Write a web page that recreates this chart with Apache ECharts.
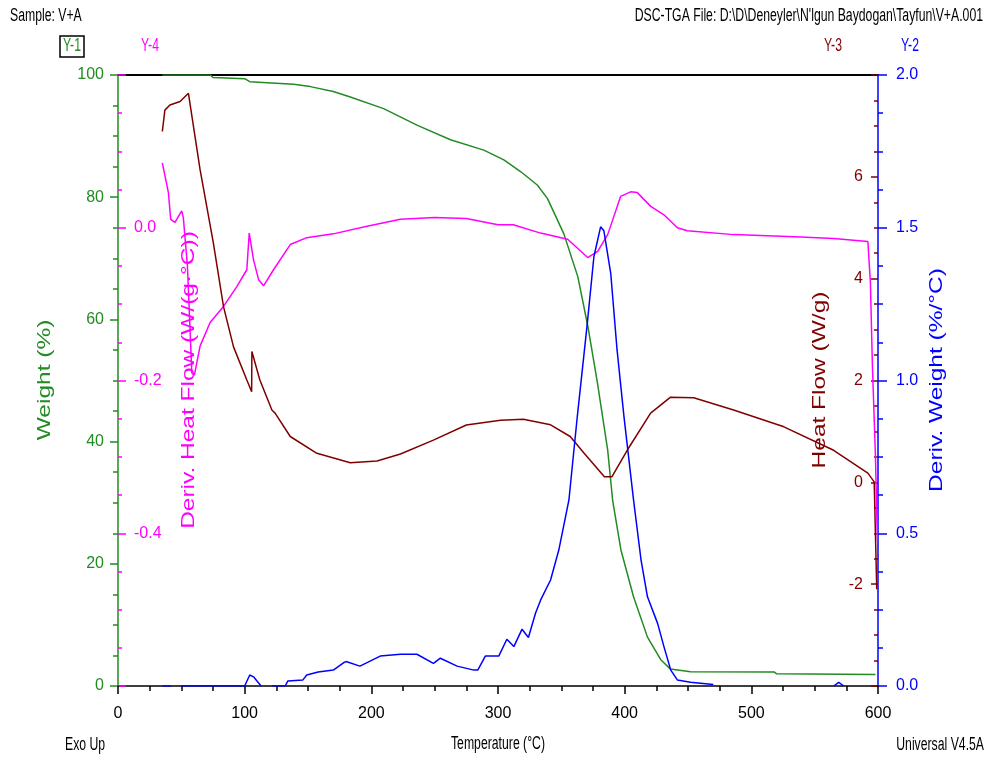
<!DOCTYPE html>
<html>
<head>
<meta charset="utf-8">
<title>DSC-TGA V+A</title>
<script src="https://cdn.jsdelivr.net/npm/echarts@6/dist/echarts.min.js"></script>
<style>
html, body { margin: 0; padding: 0; background: #fff; }
#chart { width: 989px; height: 758px; }
</style>
</head>
<body>
<div id="chart"></div>
<script>
// [temperature °C, value]
var weight = [[35,100],[73,100],[75,99.6],[100,99.4],[104,98.9],[138.6,98.5],[151.8,98.1],[170,97.3],[183.4,96.4],[209.7,94.5],[236,91.8],[262.5,89.4],[288.8,87.7],[304.6,86.1],[317.8,84.2],[331,82.0],[339,79.8],[352,74],[363,67],[371,58.8],[378.5,49.6],[386.6,38.6],[390.5,30.4],[397,22.3],[407,14.6],[418,8],[428.5,4.3],[436,2.8],[452,2.35],[518,2.3],[520,2.0],[598,1.9]];

var heatFlow = [[35,6.89],[37,7.31],[41,7.41],[49,7.48],[55.6,7.64],[64.8,6.14],[75.3,4.70],[83.3,3.45],[91.2,2.66],[101.7,2.01],[105.5,1.78],[105.7,2.57],[112,2.01],[121.5,1.42],[124,1.36],[136,0.90],[157,0.57],[183.4,0.385],[204.5,0.42],[223,0.556],[249,0.83],[275,1.126],[302,1.22],[320,1.24],[341.5,1.13],[357,0.9],[368,0.57],[384,0.11],[390,0.11],[402,0.63],[420.5,1.36],[436,1.67],[454.5,1.66],[486,1.42],[525.7,1.09],[565,0.63],[592,0.18],[597,0.01],[599,-2.1]];

var derivHeatFlow = [[35,0.085],[39.8,0.046],[41.6,0.011],[45,0.007],[50.3,0.022],[51.6,0.013],[54.8,-0.05],[58.3,-0.19],[60.3,-0.193],[64.8,-0.155],[72.7,-0.124],[83.3,-0.103],[93.8,-0.077],[101.7,-0.055],[103.6,-0.007],[107,-0.042],[111,-0.068],[114.9,-0.076],[122.8,-0.055],[136,-0.022],[149,-0.013],[170,-0.008],[196.6,0.002],[223,0.011],[250,0.0135],[275,0.012],[300,0.004],[312,0.004],[333.6,-0.007],[355,-0.015],[370.8,-0.039],[378.7,-0.031],[386.6,-0.009],[396.8,0.041],[404.7,0.047],[410,0.046],[420.6,0.028],[431,0.017],[441.6,0],[449.5,-0.004],[486,-0.009],[539,-0.012],[565,-0.014],[592,-0.018],[594,-0.072],[595.6,-0.181],[598,-0.3],[599.5,-0.41]];

var derivWeight = [[35,0],[42,0],[43,null],[50,0],[100,0],[104,0.036],[107,0.03],[111,0.01],[113,0],[114,null],[121.5,0],[132,0],[134,0.016],[146,0.02],[149,0.036],[158,0.046],[170,0.052],[178,0.076],[180,0.08],[191,0.065],[207,0.098],[223,0.104],[236,0.104],[249,0.074],[254.5,0.091],[267.7,0.065],[281,0.052],[284,0.052],[290,0.098],[300.6,0.098],[307,0.153],[312.5,0.129],[319,0.186],[324,0.159],[329.6,0.238],[333.6,0.281],[341.5,0.347],[348,0.445],[356,0.609],[362.6,0.882],[370.5,1.187],[375.7,1.405],[381,1.503],[383.6,1.49],[389,1.351],[394,1.10],[399.5,0.88],[407,0.609],[413,0.41],[418,0.292],[426,0.205],[431,0.129],[436.4,0.052],[441.6,0.02],[452,0.012],[470,0.005],[471,null],[565,0],[569,0.012],[573,0]];

var GREEN = '#228B22', MAG = '#FF00FF', RED = '#800000', BLUE = '#0000FF';
var FONT = "'Liberation Sans', Arial, sans-serif";

var chart = echarts.init(document.getElementById('chart'));

// the Universal Analysis printout uses a tall condensed face, so texts are squeezed with scaleX
function txt(x, y, s, color, opts) {
  opts = opts || {};
  return {
    type: 'text', x: x, y: y, rotation: opts.rot || 0, scaleX: opts.sx || 0.68, scaleY: 1, z: 10,
    style: {
      text: s, fill: color,
      font: (opts.size || 18) + 'px ' + FONT,
      align: opts.align || 'left', textAlign: opts.align || 'left',
      verticalAlign: 'middle', textVerticalAlign: 'middle'
    }
  };
}
function axName(x, s, color) {
  return txt(x, 380, s, color, { rot: Math.PI / 2, align: 'center', size: 18, sx: 1.36 });
}

var option = {
  animation: false,
  backgroundColor: '#fff',
  grid: { left: 118, right: 111, top: 75, bottom: 72, containLabel: false, outerBoundsMode: 'none' },
  xAxis: [{
    type: 'value', position: 'bottom', min: 0, max: 600, interval: 100,
    axisLine: { show: true, onZero: false, lineStyle: { color: '#000', width: 1.5 } },
    axisTick: { show: true, length: 8, lineStyle: { color: '#000', width: 1.5 } },
    minorTick: { show: true, splitNumber: 4, length: 5, lineStyle: { color: '#000', width: 1.5 } },
    axisLabel: { color: '#000', fontFamily: FONT, fontSize: 16, margin: 20 },
    splitLine: { show: false }
  }, {
    type: 'value', position: 'top', min: 0, max: 600,
    axisLine: { show: true, onZero: false, lineStyle: { color: '#000', width: 2 } },
    axisTick: { show: false }, axisLabel: { show: false }, splitLine: { show: false }
  }],
  yAxis: [{
    // Y-1 weight
    type: 'value', position: 'left', min: 0, max: 100, interval: 20,
    axisLine: { show: true, onZero: false, lineStyle: { color: GREEN, width: 1.5 } },
    axisTick: { show: true, length: 8, lineStyle: { color: GREEN, width: 1.5 } },
    minorTick: { show: true, splitNumber: 4, length: 5, lineStyle: { color: GREEN, width: 1.5 } },
    axisLabel: { color: GREEN, fontFamily: FONT, fontSize: 16, margin: 14 },
    splitLine: { show: false }
  }, {
    // Y-4 deriv. heat flow
    type: 'value', position: 'left', min: -0.6, max: 0.2, interval: 0.2,
    axisLine: { show: false, onZero: false },
    axisTick: { show: true, inside: true, length: 8, lineStyle: { color: MAG, width: 1.5 } },
    minorTick: { show: true, splitNumber: 4, length: 4, lineStyle: { color: MAG, width: 1.5 } },
    axisLabel: { inside: true, color: MAG, fontFamily: FONT, fontSize: 16, margin: 16,
      showMinLabel: false, showMaxLabel: false,
      formatter: function (v) { return v.toFixed(1); } },
    splitLine: { show: false }
  }, {
    // Y-2 deriv. weight
    type: 'value', position: 'right', min: 0, max: 2, interval: 0.5,
    axisLine: { show: true, onZero: false, lineStyle: { color: BLUE, width: 1.5 } },
    axisTick: { show: true, length: 9, lineStyle: { color: BLUE, width: 1.5 } },
    minorTick: { show: true, splitNumber: 4, length: 5, lineStyle: { color: BLUE, width: 1.5 } },
    axisLabel: { color: BLUE, fontFamily: FONT, fontSize: 16, margin: 18,
      formatter: function (v) { return v.toFixed(1); } },
    splitLine: { show: false }
  }, {
    // Y-3 heat flow
    type: 'value', position: 'right', min: -4, max: 8, interval: 2,
    axisLine: { show: false, onZero: false },
    axisTick: { show: true, inside: true, length: 7, lineStyle: { color: RED, width: 1.5 } },
    minorTick: { show: true, splitNumber: 4, length: 4, lineStyle: { color: RED, width: 1.5 } },
    axisLabel: { inside: true, color: RED, fontFamily: FONT, fontSize: 16, margin: 15,
      showMinLabel: false, showMaxLabel: false },
    splitLine: { show: false }
  }],
  series: [
    { name: 'Weight', type: 'line', yAxisIndex: 0, data: weight, showSymbol: false, symbol: 'none',
      lineStyle: { color: GREEN, width: 1.5 }, itemStyle: { color: GREEN } },
    { name: 'Deriv. Heat Flow', type: 'line', yAxisIndex: 1, data: derivHeatFlow, showSymbol: false, symbol: 'none',
      lineStyle: { color: MAG, width: 1.5 }, itemStyle: { color: MAG } },
    { name: 'Heat Flow', type: 'line', yAxisIndex: 3, data: heatFlow, showSymbol: false, symbol: 'none',
      lineStyle: { color: RED, width: 1.5 }, itemStyle: { color: RED } },
    { name: 'Deriv. Weight', type: 'line', yAxisIndex: 2, data: derivWeight, showSymbol: false, symbol: 'none',
      connectNulls: false, lineStyle: { color: BLUE, width: 1.5 }, itemStyle: { color: BLUE } }
  ],
  graphic: [
    txt(10, 16, 'Sample: V+A', '#000'),
    txt(983, 16, 'DSC-TGA File: D:\\D\\Deneyler\\N\'lgun Baydogan\\Tayfun\\V+A.001', '#000', { align: 'right' }),
    { type: 'rect', z: 10, shape: { x: 60, y: 36, width: 24, height: 21 },
      style: { fill: 'none', stroke: '#000', lineWidth: 1.5 } },
    txt(72, 46, 'Y-1', GREEN, { align: 'center' }),
    txt(150, 46, 'Y-4', MAG, { align: 'center' }),
    txt(833, 46, 'Y-3', RED, { align: 'center' }),
    txt(910, 46, 'Y-2', BLUE, { align: 'center' }),
    axName(45, 'Weight (%)', GREEN),
    axName(189, 'Deriv. Heat Flow (W/(g\u00b7\u00b0C))', MAG),
    axName(820, 'Heat Flow (W/g)', RED),
    axName(937, 'Deriv. Weight (%/\u00b0C)', BLUE),
    txt(65, 745, 'Exo Up', '#000'),
    txt(498, 744, 'Temperature (\u00b0C)', '#000', { align: 'center' }),
    txt(984, 745, 'Universal V4.5A', '#000', { align: 'right' })
  ]
};

chart.setOption(option);
</script>
</body>
</html>
